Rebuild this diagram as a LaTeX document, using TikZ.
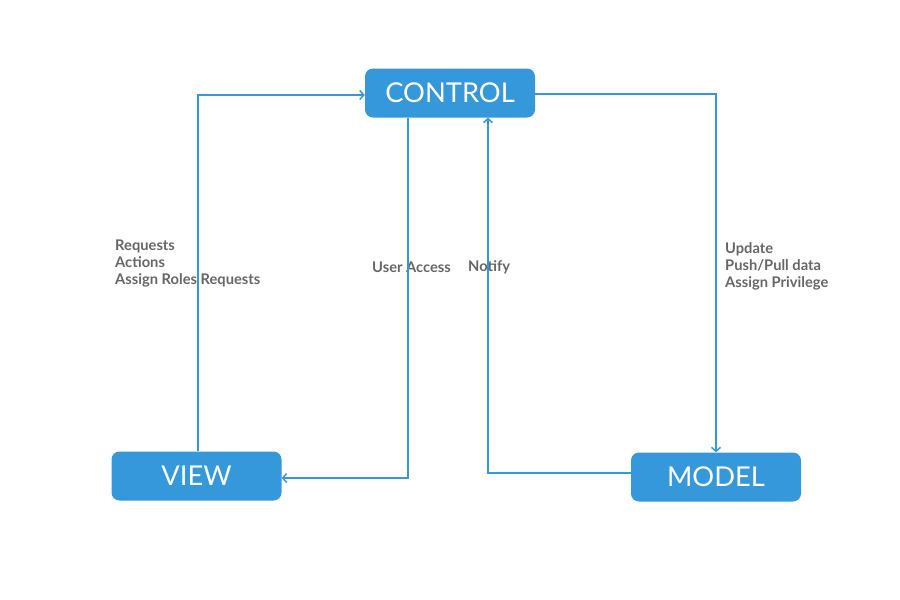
\documentclass[tikz,border=0pt]{standalone}
\usepackage{fontspec}
\setmainfont{Lato}
\usetikzlibrary{arrows.meta}
\definecolor{mvcblue}{HTML}{3498DB}
\definecolor{lblgray}{HTML}{666666}

\begin{document}
\begin{tikzpicture}[x=1pt,y=-1pt,
	box/.style={fill=mvcblue, rounded corners=8pt, minimum width=170pt,
		minimum height=49pt, text=white, font=\fontsize{27.3}{30}\selectfont},
	flow/.style={draw=mvcblue, line width=1.5pt,
		-{Straight Barb[length=4pt,width=9pt]}},
	lbl/.style={text=lblgray, font=\bfseries\fontsize{14.7}{17}\selectfont,
		align=left, inner sep=0pt, anchor=west}]

	\useasboundingbox (0,0) rectangle (900,600);

	% ---- boxes

	\node[box] (control) at (450,93) {CONTROL};
	\node[box] (view) at (196.5,476) {VIEW};
	\node[box] (model) at (716,477) {MODEL};

	% ---- labels

	\node[lbl] (lview) at (115,263.5) {Requests\\Actions\\Assign Roles Requests};
	\node[lbl] (laccess) at (372,267.5) {User Access};
	\node[lbl] (lnotify) at (468,267.5) {Notify};
	\node[lbl] (lmodel) at (725,266.5) {Update\\Push/Pull data\\Assign Privilege};

	% ---- bends

	\coordinate (vc) at (198,95);
	\coordinate (cm) at (716,94);
	\coordinate (cv) at (408,478);
	\coordinate (mc) at (488,473);

	% ---- connectors

	\draw[flow] (view.north -| vc) |- (control.west |- vc);
	\draw[flow] (control.east |- cm) -| (model.north -| cm);
	\draw[flow] (control.south -| cv) |- (view.east |- cv);
	\draw[flow] (model.west |- mc) -| (control.south -| mc);

\end{tikzpicture}
\end{document}
